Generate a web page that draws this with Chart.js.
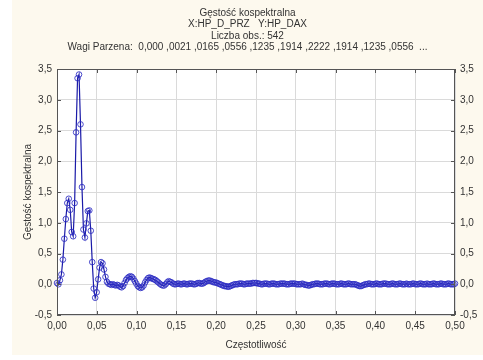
<!DOCTYPE html>
<html>
<head>
<meta charset="utf-8">
<script src="https://cdn.jsdelivr.net/npm/chart.js@4/dist/chart.umd.min.js"></script>
<style>
  html, body { margin: 0; padding: 0; background: #ffffff; }
  #panel {
    position: absolute; left: 12px; top: 0;
    width: 471px; height: 355px;
    background: #fdf9ee;
  }
</style>
</head>
<body>
<div id="panel"><canvas id="cosp" width="471" height="355"></canvas></div>
<script>
/* Cross-spectral density HP_D_PRZ vs HP_DAX, Fourier frequencies k/542 */
const N_OBS = 542;

const titleLines = [
  'Gęstość kospektralna',
  'X:HP_D_PRZ   Y:HP_DAX',
  'Liczba obs.: 542',
  'Wagi Parzena:  0,000 ,0021 ,0165 ,0556 ,1235 ,1914 ,2222 ,1914 ,1235 ,0556  ...'
];

/* density at k = 0 .. 271 */
const density = [
  0.02, 0.00, 0.065, 0.16, 0.40, 0.74, 1.06, 1.32, 1.39, 1.21,
  0.85, 0.78, 1.32, 2.47, 3.35, 3.41, 2.60, 1.58, 0.89, 0.76,
  0.99, 1.19, 1.20, 0.87, 0.36, -0.07, -0.22, -0.13, 0.08, 0.27,
  0.36, 0.34, 0.24, 0.12, 0.04, 0.01, 0.00, -0.01, 0.00, -0.01,
  -0.02, -0.01, -0.02, -0.04, -0.05, -0.03, 0.02, 0.07, 0.10, 0.12,
  0.13, 0.12, 0.09, 0.05, 0.01, -0.03, -0.05, -0.06, -0.05, -0.02,
  0.03, 0.07, 0.10, 0.11, 0.10, 0.09, 0.08, 0.07, 0.05, 0.03,
  0.01, -0.01, -0.02, -0.02, 0.00, 0.03, 0.05, 0.04, 0.03, 0.01,
  0.00, 0.00, 0.01, 0.01, 0.00, 0.00, 0.01, 0.01, 0.00, 0.00,
  0.01, 0.01, 0.01, 0.00, 0.00, 0.01, 0.02, 0.02, 0.01, 0.01,
  0.02, 0.04, 0.05, 0.06, 0.06, 0.05, 0.04, 0.03, 0.03, 0.02,
  0.01, 0.00, -0.01, -0.02, -0.03, -0.03, -0.04, -0.04, -0.03, -0.02,
  -0.01, 0.00,
  0.00, 0.00, 0.01, 0.01, 0.01, 0.00, 0.00, 0.01, 0.01, 0.01,
  0.01, 0.02, 0.02, 0.02, 0.02, 0.01, 0.01, 0.00, 0.00, 0.01,
  0.01, 0.01, 0.00, 0.00, 0.01, 0.01, 0.01, 0.00, 0.00, 0.00,
  0.01, 0.01, 0.01, 0.01, 0.00, 0.00, 0.00, 0.01, 0.01, 0.01,
  0.01, 0.00, 0.00, 0.00, 0.00, 0.01, 0.00, -0.01, -0.01, -0.02,
  -0.02, -0.01, 0.00, 0.00, 0.01, 0.01, 0.01, 0.00, 0.00, 0.00,
  0.01, 0.01, 0.01, 0.00, 0.00, 0.01, 0.01, 0.01, 0.00, 0.00,
  0.00, 0.01, 0.01, 0.00, 0.00, 0.00, 0.01, 0.01, 0.00, 0.00,
  0.00, 0.00, -0.01, -0.02, -0.03, -0.03, -0.02, -0.01, 0.00, 0.00,
  0.01, 0.01, 0.00, 0.00, 0.00, 0.01, 0.01, 0.00, 0.00, 0.00,
  0.01, 0.01, 0.01, 0.00, 0.00, 0.00, 0.01, 0.01, 0.00, 0.00,
  0.00, 0.01, 0.01, 0.00, 0.00, 0.00, 0.01, 0.00, 0.00, 0.00,
  0.01, 0.01, 0.00, 0.00, 0.00, 0.01, 0.01, 0.00, 0.00, 0.00,
  0.01, 0.00, 0.00, 0.00, 0.01, 0.01, 0.00, 0.00, 0.00, 0.01,
  0.01, 0.00, 0.00, 0.00, 0.01, 0.01, 0.00, 0.00, 0.00, 0.01
];

const freq = density.map((_, k) => k / N_OBS);

const X_MIN = 0, X_MAX = 0.5, X_STEP = 0.05;
const Y_MIN = -0.5, Y_MAX = 3.5, Y_STEP = 0.5;

const FONT = "'Liberation Sans', Arial, sans-serif";
const TEXT = '#333333';
const comma = (v, d) => v.toFixed(d).replace('.', ',');

/* white plot area + frame with inward tick marks on all four sides */
const frame = {
  id: 'frame',
  beforeDraw(chart) {
    const { ctx, chartArea: a } = chart;
    ctx.save();
    ctx.fillStyle = '#ffffff';
    ctx.fillRect(a.left, a.top, a.right - a.left, a.bottom - a.top);
    ctx.restore();
  },
  afterDraw(chart) {
    const { ctx, chartArea: a, scales } = chart;
    ctx.save();
    ctx.strokeStyle = '#555555';
    ctx.lineWidth = 1;
    ctx.strokeRect(a.left + 0.5, a.top + 0.5, a.right - a.left - 1, a.bottom - a.top - 1);
    ctx.beginPath();
    scales.x.ticks.forEach(t => {
      const x = Math.round(scales.x.getPixelForValue(t.value)) + 0.5;
      ctx.moveTo(x, a.bottom); ctx.lineTo(x, a.bottom - 4);
      ctx.moveTo(x, a.top);    ctx.lineTo(x, a.top + 4);
    });
    scales.y.ticks.forEach(t => {
      const y = Math.round(scales.y.getPixelForValue(t.value)) + 0.5;
      ctx.moveTo(a.left, y);  ctx.lineTo(a.left + 4, y);
      ctx.moveTo(a.right, y); ctx.lineTo(a.right - 4, y);
    });
    ctx.stroke();
    ctx.restore();
  }
};

new Chart(document.getElementById('cosp'), {
  type: 'line',
  data: {
    datasets: [{
      data: freq.map((f, i) => ({ x: f, y: density[i] })),
      borderColor: '#1a1aa8',
      borderWidth: 1.2,
      pointRadius: 2.8,
      pointStyle: 'circle',
      pointBorderColor: 'rgba(45,45,195,0.85)',
      pointBackgroundColor: 'rgba(255,255,255,0)',
      pointBorderWidth: 1,
      tension: 0,
      clip: false
    }]
  },
  options: {
    responsive: false,
    animation: false,
    events: [],
    layout: { padding: 0 },
    plugins: {
      legend: { display: false },
      tooltip: { enabled: false },
      title: {
        display: true,
        text: titleLines,
        color: TEXT,
        font: { family: FONT, size: 10, weight: 'normal', lineHeight: 1.15 },
        padding: { top: 7, bottom: 16 }
      }
    },
    scales: {
      x: {
        type: 'linear',
        min: X_MIN, max: X_MAX,
        afterFit: s => { s.height = 40; },
        afterBuildTicks: s => {
          s.ticks = [];
          for (let i = 0; i <= 10; i++) s.ticks.push({ value: +(X_MIN + i * X_STEP).toFixed(2) });
        },
        grid: { color: '#dadada', drawTicks: false },
        border: { display: false },
        ticks: {
          color: TEXT, padding: 5,
          font: { family: FONT, size: 10 },
          maxRotation: 0,
          callback: v => comma(v, 2)
        },
        title: {
          display: true, text: 'Częstotliwość', color: TEXT,
          font: { family: FONT, size: 10 },
          padding: { top: 0, bottom: 4 }
        }
      },
      y: {
        position: 'left',
        min: Y_MIN, max: Y_MAX,
        afterFit: s => { s.width = 45; },
        ticks: {
          stepSize: Y_STEP, color: TEXT, padding: 5,
          font: { family: FONT, size: 10 },
          callback: v => comma(v, 1)
        },
        grid: { color: '#dadada', drawTicks: false },
        border: { display: false },
        title: {
          display: true, text: 'Gęstość kospektralna', color: TEXT,
          font: { family: FONT, size: 10 },
          padding: { top: 10, bottom: 0 }
        }
      },
      y2: {
        position: 'right',
        min: Y_MIN, max: Y_MAX,
        afterFit: s => { s.width = 28; },
        ticks: {
          stepSize: Y_STEP, color: TEXT, padding: 5,
          font: { family: FONT, size: 10 },
          callback: v => comma(v, 1)
        },
        grid: { display: false, drawTicks: false },
        border: { display: false }
      }
    }
  },
  plugins: [frame]
});
</script>
</body>
</html>
